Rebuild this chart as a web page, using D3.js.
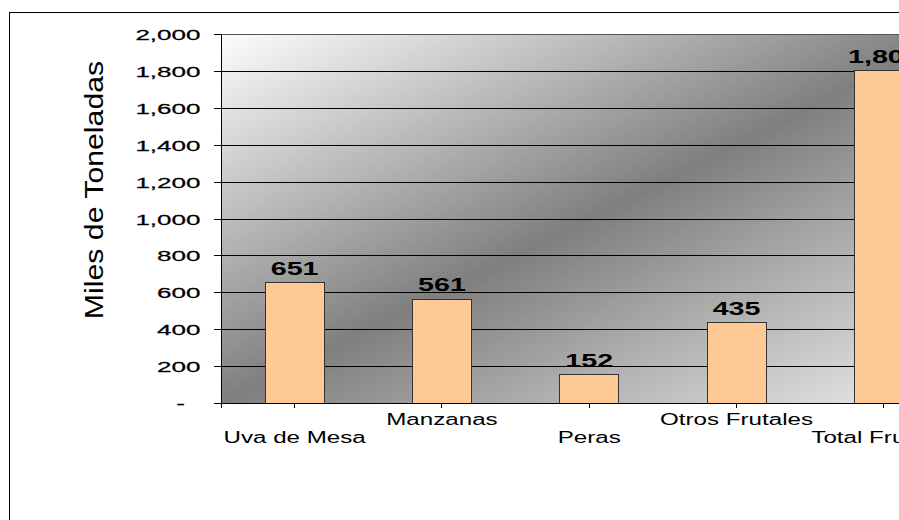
<!DOCTYPE html>
<html>
<head>
<meta charset="utf-8">
<script src="https://cdn.jsdelivr.net/npm/d3@7"></script>
<style>
  body { margin: 0; background: #fff; }
  svg { display: block; font-family: Arial, "Liberation Sans", sans-serif; }
</style>
</head>
<body>
<svg id="chart" width="899" height="520"></svg>
<script>
// data
var categories = ["Uva de Mesa", "Manzanas", "Peras", "Otros Frutales", "Total Frutales"];
var values = [651, 561, 152, 435, 1800];
var yTicks = [0, 200, 400, 600, 800, 1000, 1200, 1400, 1600, 1800, 2000];
var yTitle = "Miles de Toneladas";

var svg = d3.select("#chart");

// plot box (runs past the right edge of the window like the original)
var plotLeft = 221, plotTop = 34, plotBottom = 403;
var step = 147.3;
var plotRight = plotLeft + step * categories.length;

var x = d3.scaleBand()
    .domain(categories)
    .range([plotLeft, plotRight])
    .paddingInner(0.6)
    .paddingOuter(0.3);

var y = d3.scaleLinear()
    .domain([0, 2000])
    .range([plotBottom, plotTop]);

var fmt = d3.format(",");

// outer frame
svg.append("rect")
    .attr("x", 9.5).attr("y", 12.5)
    .attr("width", 1000).attr("height", 600)
    .attr("fill", "#fff")
    .attr("stroke", "#000");

var defs = svg.append("defs");
var grad = defs.append("linearGradient")
    .attr("id", "bg")
    .attr("x1", 0).attr("y1", 0).attr("x2", 1).attr("y2", 1);
grad.append("stop").attr("offset", 0).attr("stop-color", "#fdfdfd");
grad.append("stop").attr("offset", 0.5).attr("stop-color", "#7c7c7c");
grad.append("stop").attr("offset", 1).attr("stop-color", "#eeeeee");

// fine diagonal texture
var pat = defs.append("pattern")
    .attr("id", "tex")
    .attr("width", 3).attr("height", 3)
    .attr("patternUnits", "userSpaceOnUse")
    .attr("patternTransform", "rotate(45)");
pat.append("line")
    .attr("x1", 0).attr("y1", 0).attr("x2", 0).attr("y2", 3)
    .attr("stroke", "#fff").attr("stroke-opacity", 0.15).attr("stroke-width", 1);

svg.append("rect")
    .attr("x", plotLeft).attr("y", plotTop)
    .attr("width", plotRight - plotLeft).attr("height", plotBottom - plotTop)
    .attr("fill", "url(#bg)");
svg.append("rect")
    .attr("x", plotLeft).attr("y", plotTop)
    .attr("width", plotRight - plotLeft).attr("height", plotBottom - plotTop)
    .attr("fill", "url(#tex)");

// gridlines
var grid = svg.append("g")
    .attr("transform", "translate(" + plotLeft + ",0)")
    .call(d3.axisLeft(y).tickValues(yTicks.slice(1)).tickSize(-(plotRight - plotLeft)).tickFormat(""));
grid.select(".domain").remove();
grid.selectAll("line")
    .attr("stroke", "#000")
    .attr("shape-rendering", "crispEdges");
grid.selectAll(".tick").filter(function (d) { return d === 2000; })
    .select("line").attr("stroke", "#555");

// bars
svg.selectAll(".bar")
    .data(values)
    .enter().append("rect")
    .attr("class", "bar")
    .attr("x", function (d, i) { return x(categories[i]); })
    .attr("y", function (d) { return y(d); })
    .attr("width", x.bandwidth())
    .attr("height", function (d) { return y(0) - y(d); })
    .attr("fill", "#ffc996")
    .attr("stroke", "#333")
    .attr("stroke-width", 1)
    .attr("shape-rendering", "crispEdges");

// value labels
svg.selectAll(".val")
    .data(values)
    .enter().append("text")
    .attr("class", "val")
    .attr("text-anchor", "middle")
    .attr("font-weight", "bold")
    .attr("font-size", 18.5)
    .attr("transform", function (d, i) {
        return "translate(" + (x(categories[i]) + x.bandwidth() / 2) + "," + (y(d) - 8) + ") scale(1.55,1)";
    })
    .text(function (d) { return fmt(d); });

// y axis
var yAxis = svg.append("g")
    .attr("transform", "translate(" + plotLeft + ",0)")
    .call(d3.axisLeft(y).tickValues(yTicks).tickSize(7)
        .tickFormat(function (d) { return d === 0 ? "-" : fmt(d); }));
yAxis.select(".domain").attr("stroke", "#000").attr("shape-rendering", "crispEdges");
yAxis.selectAll("line").attr("stroke", "#000").attr("shape-rendering", "crispEdges");
yAxis.selectAll("text")
    .attr("x", null).attr("dy", null)
    .attr("fill", "#000")
    .attr("stroke", "#000").attr("stroke-width", 0.25)
    .attr("font-size", 15.5)
    .attr("font-family", "Arial, 'Liberation Sans', sans-serif")
    .attr("text-anchor", "end")
    .attr("transform", function (d) {
        return d === 0 ? "translate(-36,5.5) scale(1.68,1)" : "translate(-20.5,5.5) scale(1.68,1)";
    });

// x axis
var xAxis = svg.append("g")
    .attr("transform", "translate(0," + plotBottom + ")")
    .call(d3.axisBottom(x).tickSize(5));
xAxis.select(".domain").attr("stroke", "#000").attr("shape-rendering", "crispEdges");
xAxis.selectAll("line").attr("stroke", "#000").attr("shape-rendering", "crispEdges");
xAxis.selectAll("text")
    .attr("y", null).attr("dy", null)
    .attr("fill", "#000")
    .attr("font-size", 16)
    .attr("font-family", "Arial, 'Liberation Sans', sans-serif")
    .attr("transform", function (d, i) {
        return "translate(0," + (i % 2 === 0 ? 40 : 22) + ") scale(1.51,1)";
    });

// y title
svg.append("text")
    .attr("text-anchor", "middle")
    .attr("font-size", 25)
    .attr("transform", "translate(103,190) rotate(-90) scale(1.21,1)")
    .text(yTitle);
</script>
</body>
</html>
